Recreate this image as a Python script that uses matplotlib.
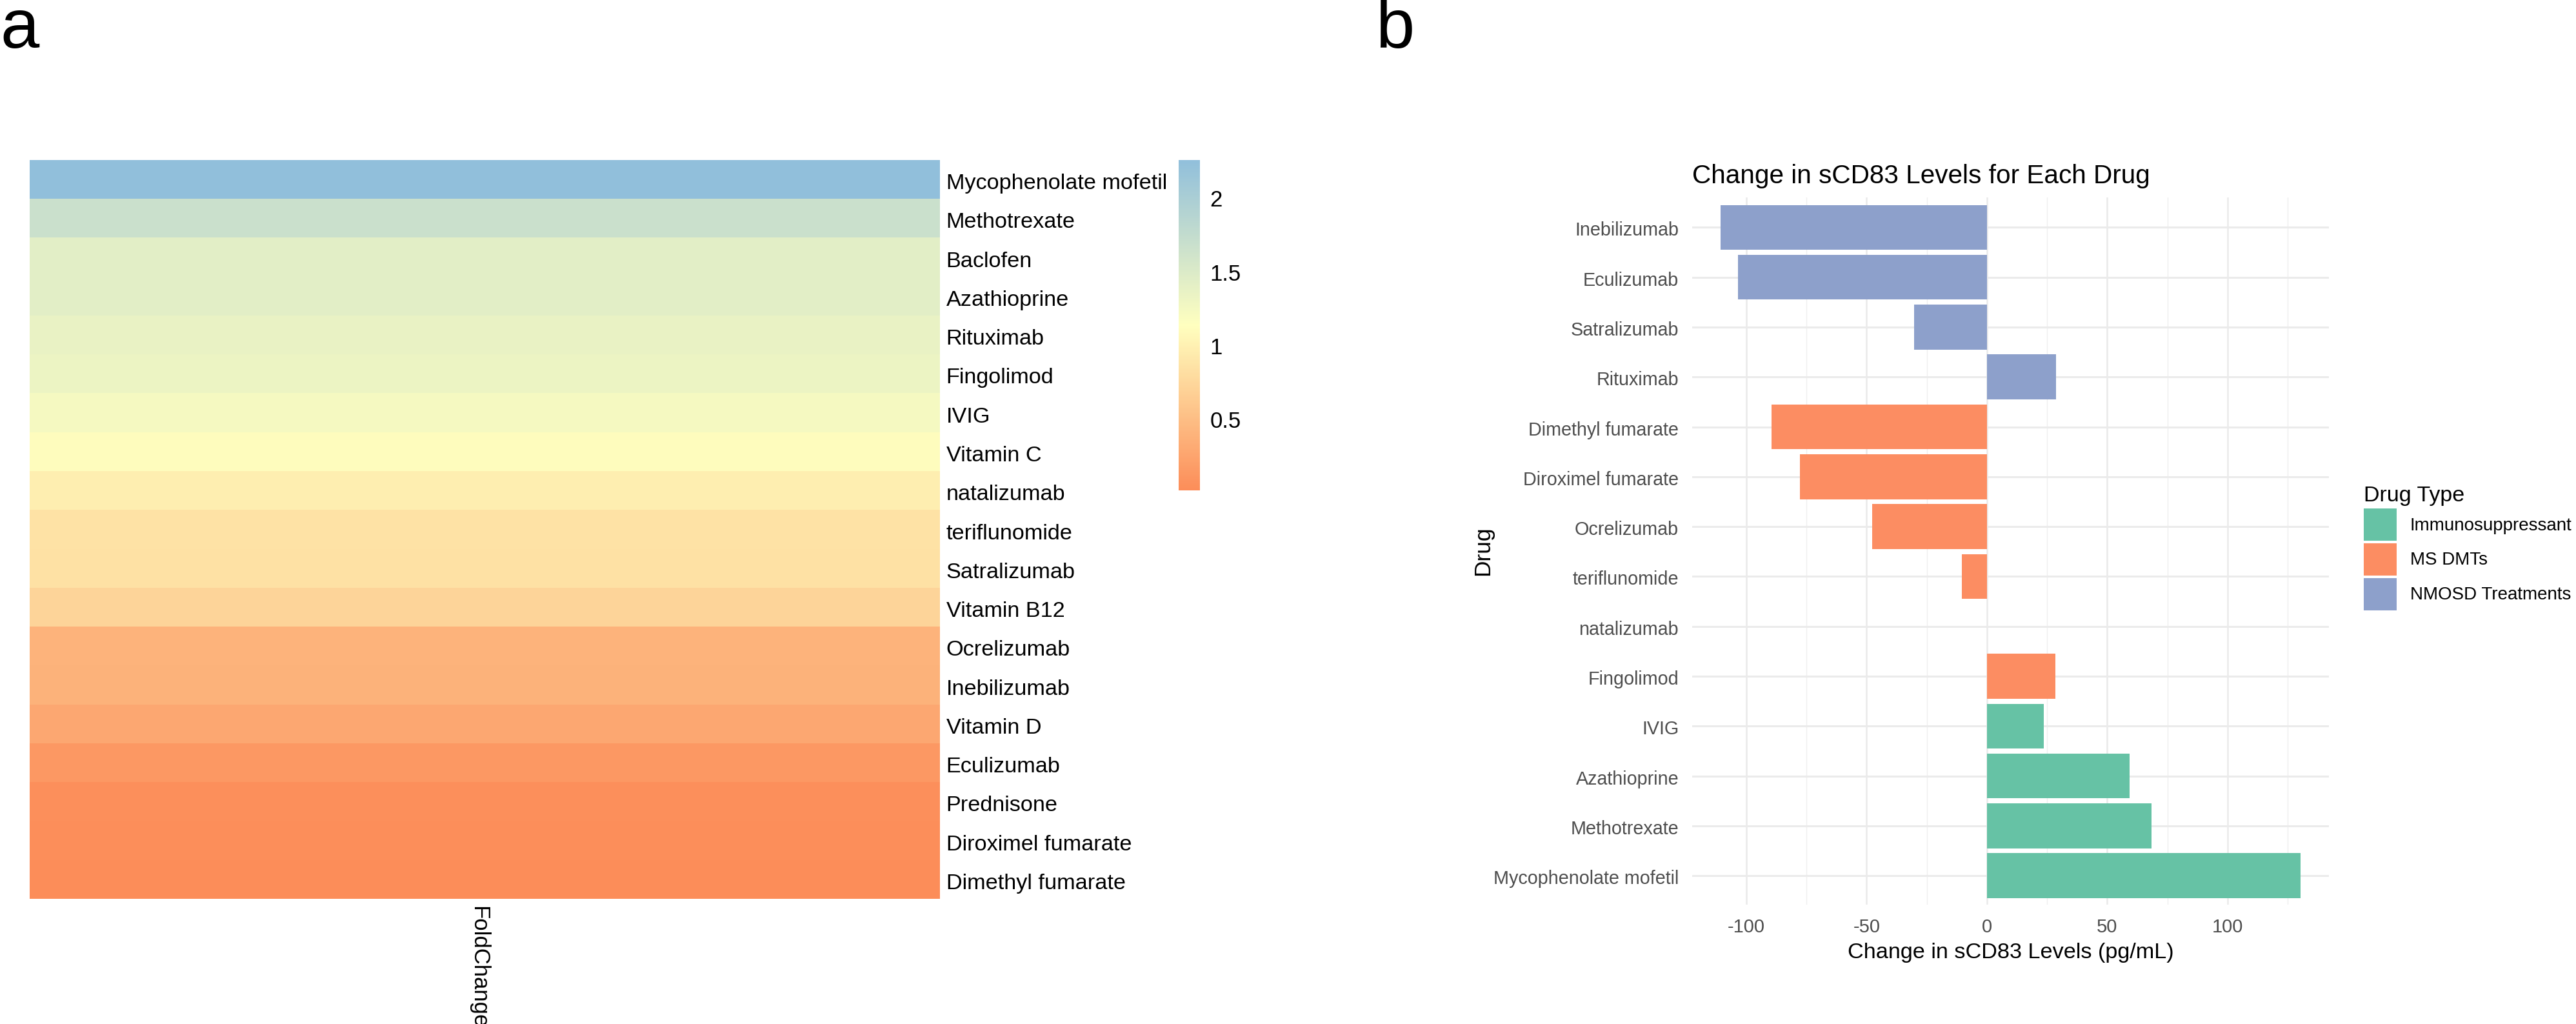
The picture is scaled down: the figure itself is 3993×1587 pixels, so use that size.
import matplotlib
matplotlib.use('Agg')
import matplotlib.pyplot as plt
import numpy as np
from matplotlib.colors import LinearSegmentedColormap, Normalize
from matplotlib.patches import Patch
from matplotlib.transforms import ScaledTranslation

plt.rcParams['font.family'] = ['Liberation Sans', 'DejaVu Sans']

W, H = 3993, 1587

# panel a
heat_drugs = ['Mycophenolate mofetil', 'Methotrexate', 'Baclofen', 'Azathioprine', 'Rituximab',
              'Fingolimod', 'IVIG', 'Vitamin C', 'natalizumab', 'teriflunomide', 'Satralizumab',
              'Vitamin B12', 'Ocrelizumab', 'Inebilizumab', 'Vitamin D', 'Eculizumab',
              'Prednisone', 'Diroximel fumarate', 'Dimethyl fumarate']
fold_change = [2.26, 1.67, 1.43, 1.42, 1.36, 1.33, 1.23, 1.12, 0.98, 0.86, 0.85, 0.72,
               0.40, 0.39, 0.29, 0.14, 0.05, 0.04, 0.02]
cbar_ticks = [0.5, 1, 1.5, 2]
cbar_labels = ['0.5', '1', '1.5', '2']

# panel b
bar_drugs = ['Mycophenolate mofetil', 'Methotrexate', 'Azathioprine', 'IVIG', 'Fingolimod',
             'natalizumab', 'teriflunomide', 'Ocrelizumab', 'Diroximel fumarate',
             'Dimethyl fumarate', 'Rituximab', 'Satralizumab', 'Eculizumab', 'Inebilizumab']
sc83_change = [130.3, 68.4, 59.3, 23.6, 28.4, 0, -10.5, -47.6, -77.6, -89.5, 28.7, -30.2, -103.6, -110.7]
drug_type = ['Immunosuppressant', 'Immunosuppressant', 'Immunosuppressant', 'Immunosuppressant',
             'MS DMTs', 'MS DMTs', 'MS DMTs', 'MS DMTs', 'MS DMTs', 'MS DMTs',
             'NMOSD Treatments', 'NMOSD Treatments', 'NMOSD Treatments', 'NMOSD Treatments']
type_colors = {'Immunosuppressant': '#66C2A5', 'MS DMTs': '#FC8D62', 'NMOSD Treatments': '#8DA0CB'}


def px_axes(left, top, right, bottom):
    return fig.add_axes([left / W, 1 - bottom / H, (right - left) / W, (bottom - top) / H])


def nudge(labels, dx, dy):
    # shift tick labels by some pixels
    for lab in labels:
        lab.set_transform(lab.get_transform() + ScaledTranslation(dx / 100, dy / 100, fig.dpi_scale_trans))


fig = plt.figure(figsize=(W / 100, H / 100), dpi=100)

cmap = LinearSegmentedColormap.from_list('fc', ['#FC8D59', '#FFFFBF', '#91BFDB'])
norm = Normalize(0.02, 2.26)

ax = px_axes(46, 248, 1457, 1393)
ax.imshow(np.array(fold_change).reshape(-1, 1), cmap=cmap, norm=norm, aspect='auto', interpolation='nearest')
ax.yaxis.tick_right()
ax.set_yticks(range(len(heat_drugs)))
ax.set_yticklabels(heat_drugs, fontsize=24.7)
ax.set_xticks([0])
ax.set_xticklabels(['FoldChange'], rotation=270, fontsize=25)
ax.tick_params(length=0, pad=7)
ax.tick_params(axis='x', pad=8)
nudge(ax.get_yticklabels(), 0, -3)
nudge(ax.get_xticklabels(), -10, 0)
for s in ax.spines.values():
    s.set_visible(False)

cax = px_axes(1827, 248, 1860, 760)
sm = plt.cm.ScalarMappable(norm=norm, cmap=cmap)
cb = fig.colorbar(sm, cax=cax)
cb.outline.set_visible(False)
cb.set_ticks(cbar_ticks)
cb.set_ticklabels(cbar_labels)
cb.ax.tick_params(length=0, labelsize=25, pad=11)

# panel b
bx = px_axes(2623, 306, 3610, 1402)
colors = [type_colors[t] for t in drug_type]
bx.barh(range(len(bar_drugs)), sc83_change, height=0.9, color=colors, zorder=3)
bx.set_yticks(range(len(bar_drugs)))
bx.set_yticklabels(bar_drugs, fontsize=20.7, color='#4D4D4D')
bx.set_xlim(-122.5, 142.1)
bx.set_ylim(-0.58, 13.6)
bx.set_xticks([-100, -50, 0, 50, 100])
bx.set_xticklabels(['-100', '-50', '0', '50', '100'], fontsize=21, color='#4D4D4D')
bx.set_xticks([-75, -25, 25, 75, 125], minor=True)
bx.grid(True, which='major', axis='y', color='#EBEBEB', linewidth=2.2, zorder=0)
bx.grid(True, which='major', axis='x', color='#EBEBEB', linewidth=1.9, zorder=0)
bx.grid(True, which='minor', axis='x', color='#EFEFEF', linewidth=1.0, zorder=0)
bx.set_axisbelow(True)
bx.tick_params(which='both', length=0, pad=15)
nudge(bx.get_yticklabels(), 0, -2)
for s in bx.spines.values():
    s.set_visible(False)
bx.set_xlabel('Change in sCD83 Levels (pg/mL)', fontsize=24.7, labelpad=7)
bx.set_ylabel('Drug', fontsize=25.5, labelpad=0)
bx.set_title('Change in sCD83 Levels for Each Drug', fontsize=29.2, loc='left', pad=16)

handles = [Patch(facecolor=type_colors[k], edgecolor='none', label=k) for k in type_colors]
leg = bx.legend(handles=handles, title='Drug Type', loc='upper left', bbox_to_anchor=(1.0547, 0.592),
                frameon=False, fontsize=20, title_fontsize=24.5, handlelength=1.835, handleheight=2.39,
                handletextpad=0.755, labelspacing=0.14, borderaxespad=0, borderpad=0)
leg._legend_box.align = 'left'

fig.text(0, 1 - 74 / H, 'a', fontsize=78, va='baseline', ha='left')
fig.text(2132 / W, 1 - 74 / H, 'b', fontsize=78, va='baseline', ha='left')

fig.savefig('out.png', dpi=100)
